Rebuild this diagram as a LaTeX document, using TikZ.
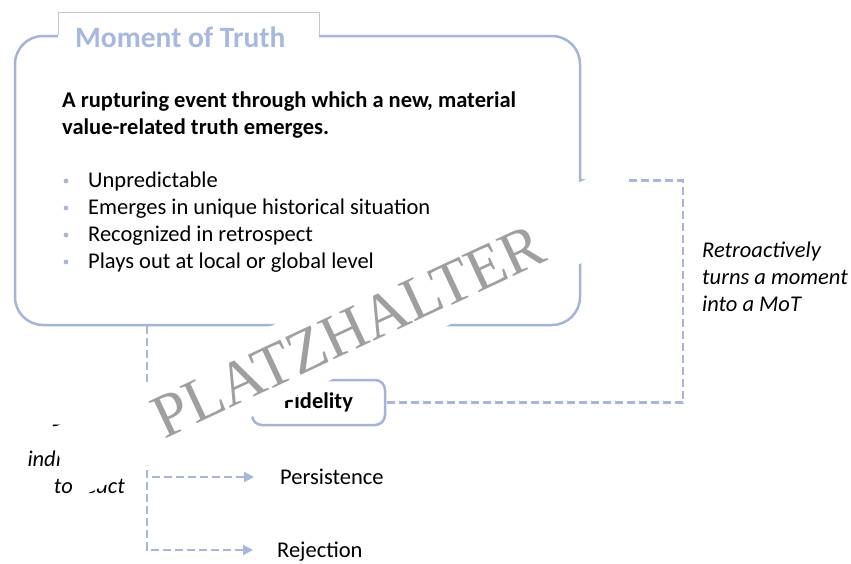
\documentclass[tikz,border=0pt]{standalone}
\usepackage{fontspec}
\setmainfont{Carlito}
\newfontfamily\wzfont{Liberation Serif}
\usetikzlibrary{arrows.meta, positioning}
\definecolor{rahmen}{RGB}{165,179,215}
\definecolor{titelblau}{RGB}{168,184,222}
\definecolor{strich}{RGB}{170,182,216}
\newcommand{\grund}{\fontsize{22.5}{27}\selectfont}

\begin{document}
\begin{tikzpicture}[x=1pt, y=-1pt,
				kasten/.style={draw=rahmen, line width=2.5pt, fill=white, inner sep=0pt},
				verb/.style={draw=strich, line width=2.2pt, dash pattern=on 8pt off 4pt},
				ziel/.style={anchor=west, inner sep=0pt, text height=14pt, text depth=0pt},
				zeile/.style={anchor=base west, inner sep=0pt},
				fett/.style={font=\grund\bfseries},
				kursiv/.style={font=\grund\itshape},
				>={Triangle[length=10pt, width=10pt]},   %Pfeilspitzen
				font=\grund]
				%Bildbereich
				\useasboundingbox (0,0) rectangle (851,563);
				% Hauptkasten
				\node (mot) [kasten, rounded corners=28pt, minimum width=565pt, minimum height=289pt] at (297.5,180.5) {};
				% Reiter mit Titel
				\node (reiter) [fill=white, anchor=north west, minimum width=261pt, minimum height=40pt] at (58,12) {};
				\draw[black!22, line width=0.8pt] (reiter.west |- mot.north) |- (reiter.north east) -- (reiter.east |- mot.north);
				\node (titel) [zeile, text=titelblau, font=\fontsize{29.5}{32}\selectfont\bfseries] at (75,47) {Moment of Truth};
				% Definition
				\node (def1) [zeile, fett] at (62,107) {A rupturing event through which a new, material};
				\node (def2) [zeile, fett] at (62,134) {value-related truth emerges.};
				% Aufzaehlung
				\foreach \t [count=\i] in {Unpredictable, Emerges in unique historical situation, Recognized in retrospect, Plays out at local or global level}
				{
					\node (p\i) [zeile] at (88,160+27*\i) {\t};
					\node (b\i) [circle, fill=strich, inner sep=1.7pt] at (66,154+27*\i) {};
				}
				% Fidelity
				\node (fid) [kasten, rounded corners=10pt, minimum width=133pt, minimum height=45pt, fett] at (318.5,402.5) {Fidelity};
				\node (pers) [ziel] at (280,477) {Persistence};
				\node (rej) [ziel] at (277,550) {Rejection};
				% Beschriftungen
				\node (rueck) [anchor=north west, inner sep=0pt, align=left, kursiv] at (702,242) {Retroactively\\turns a moment\\into a MoT};
				\node (links) [anchor=east, inner sep=0pt, align=right, kursiv] at (125,459) {Triggers\\individuals\\to react};
				% Verbindungen
				\coordinate (ast) at ([xshift=133pt]mot.south west);
				\draw[verb] (mot.east) -- ++(102,0) |- (fid.east);
				\draw[verb, ->, strich, shorten >=26pt] (ast) |- (pers.west);
				\draw[verb, ->, strich, shorten >=24pt] (ast) |- (rej.west);
				% Platzhalter
				\node (wz) [fill=white, rotate=25, minimum width=630pt, minimum height=74pt, text=gray!75, font=\wzfont\fontsize{62}{62}\selectfont] at (348,331) {PLATZHALTER};
			\end{tikzpicture}
\end{document}
